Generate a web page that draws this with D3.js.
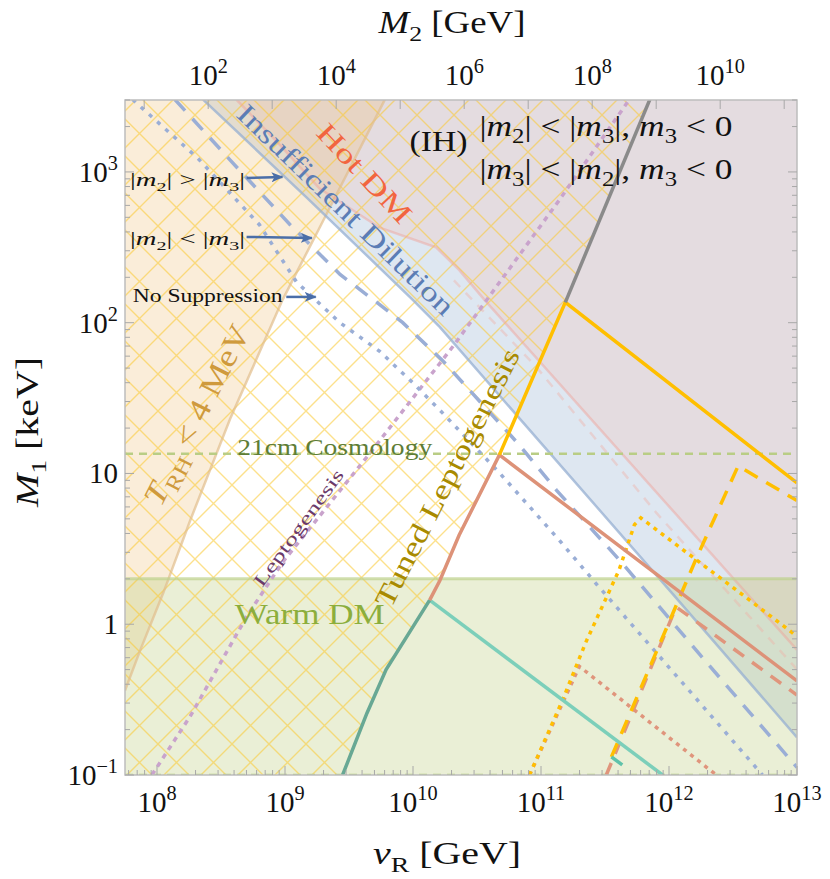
<!DOCTYPE html>
<html>
<head>
<meta charset="utf-8">
<script src="https://cdn.jsdelivr.net/npm/d3@7"></script>
<style>
  body { margin: 0; background: #fff; }
  svg { display: block; }
  text { font-family: "Liberation Serif", "DejaVu Serif", serif; }
</style>
</head>
<body>
<svg id="chart" width="830" height="879"></svg>
<script>
// every curve is a list of [log10(vR / GeV), log10(M1 / keV)]
const vRRange = [7.75, 13];
const m1Range = [-1, Math.log10(3000)];
const m2Shift = 14.8;               // log10 M2 = 2 log10 vR - 14.8
const vRLabels = [8, 9, 10, 11, 12, 13];
const m2Labels = [2, 4, 6, 8, 10];
const m1Labels = [-1, 0, 1, 2, 3];

const warmDM = 2;       // keV
const cosmo21 = 13.5;   // keV

const trhEdge = [[9.78, 3.48], [9.27, 2.63], [8.98, 2.15], [8.57, 1.36], [8.26, 0.69], [8.05, 0.21], [7.87, -0.17], [7.75, -0.44]];
const dilutionSolid = [[8.36, 3.48], [9.17, 2.83], [10.0, 2.15], [10.21, 1.97], [12.02, 0.21], [13.0, -0.75]];
const dilutionDashed = [[8.14, 3.48], [8.57, 3.08], [9.04, 2.65], [9.43, 2.32], [9.74, 2.12], [9.92, 2.0], [10.23, 1.75], [10.83, 1.19], [11.12, 0.89], [11.63, 0.41], [12.24, -0.2], [13.0, -0.95]];
const dilutionDotted = [[7.81, 3.48], [8.32, 3.09], [8.8, 2.65], [9.09, 2.27], [9.43, 2.0], [9.74, 1.81], [10.0, 1.6], [10.21, 1.42], [10.68, 1.0], [11.14, 0.56], [11.44, 0.26], [12.24, -0.52], [12.73, -1.0]];
const hotSolid = [[8.62, 3.48], [8.96, 3.18], [9.27, 2.89], [9.74, 2.63], [10.18, 2.5], [10.36, 2.35], [10.56, 2.15], [12.37, 0.43], [13.0, -0.17]];
const hotDashed = [[10.32, 2.28], [10.96, 1.71], [11.9, 0.74], [13.0, -0.3]];
const leptoLine = [[7.96, -1.0], [8.26, -0.61], [8.7, 0.05], [8.98, 0.41], [9.65, 1.12], [10.31, 1.84], [11.14, 2.81], [11.69, 3.48]];

const grayLine = [[11.19, 2.135], [11.85, 3.48]];
const yellowSolid = [[10.675, 1.123], [11.19, 2.135], [13.0, 0.937]];
const salmonSolid = [[10.13, 0.16], [10.21, 0.29], [10.36, 0.59], [10.675, 1.123], [13.0, -0.376]];
const tealRise = [[9.45, -1.0], [9.64, -0.59], [9.79, -0.3], [10.13, 0.16]];
const tealFall = [[10.13, 0.16], [11.95, -1.0]];
const tealStub = [[11.55, -0.88], [11.635, -0.933]];
const yellowDashed = [[11.55, -0.88], [12.21, 0.43], [12.54, 1.05], [13.0, 0.82]];
const salmonDashed = [[11.51, -1.0], [12.056, 0.115], [13.0, -0.47]];
const yellowDotted = [[10.91, -1.0], [11.17, -0.5], [11.35, -0.12], [11.61, 0.36], [11.73, 0.66], [11.78, 0.705], [12.24, 0.41], [12.63, 0.16], [13.0, -0.08]];
const salmonDotted = [[10.91, -1.0], [11.3, -0.28], [12.37, -1.0]];

const svg = d3.select("#chart");
const pl = 125, pr = 797, pt = 100, pb = 775;

const x = d3.scaleLog().domain(vRRange.map(v => 10 ** v)).range([pl, pr]);
const y = d3.scaleLog().domain(m1Range.map(v => 10 ** v)).range([pb, pt]);
const xTop = d3.scaleLog().domain(vRRange.map(v => 10 ** (2 * v - m2Shift))).range([pl, pr]);
const px = d => x(10 ** d[0]);
const py = d => y(10 ** d[1]);
const line = d3.line().x(px).y(py);

const defs = svg.append("defs");
defs.append("clipPath").attr("id", "plot")
  .append("rect").attr("x", pl).attr("y", pt).attr("width", pr - pl).attr("height", pb - pt);

// tuned leptogenesis boundary: gray, then the rising legs of yellow, salmon, teal
const tunedEdge = [grayLine[1], grayLine[0], yellowSolid[0], ...salmonSolid.slice(0, 3).reverse(), ...tealRise.slice().reverse()];
defs.append("clipPath").attr("id", "hatchClip")
  .append("path").attr("d", line([...tunedEdge, [vRRange[0], m1Range[0]], [vRRange[0], m1Range[1]]]) + "Z");

const pat = defs.append("pattern").attr("id", "hatch")
  .attr("patternUnits", "userSpaceOnUse").attr("width", 37).attr("height", 37)
  .attr("x", 10).attr("y", 4);
pat.append("path").attr("d", "M-5,-5L42,42M42,-5L-5,42M-5,32L5,42M32,-5L42,5M-5,5L5,-5M32,42L42,32")
  .attr("stroke", "rgba(250,200,45,0.55)").attr("stroke-width", 1.4).attr("fill", "none");

const marker = defs.append("marker").attr("id", "arrow")
  .attr("viewBox", "0 0 12 10").attr("refX", 11).attr("refY", 5)
  .attr("markerWidth", 12).attr("markerHeight", 10).attr("markerUnits", "userSpaceOnUse")
  .attr("orient", "auto");
marker.append("path").attr("d", "M0,0L12,5L0,10L3,5Z").attr("fill", "#4a6ea8");

const plot = svg.append("g").attr("clip-path", "url(#plot)");
const corner = [vRRange[1] + 0.1, m1Range[1] + 0.1];

// regions
plot.append("path").attr("d", line([...dilutionSolid, corner]) + "Z")
  .attr("fill", "rgba(160,185,215,0.35)");
plot.append("path").attr("d", line([...hotSolid, corner]) + "Z")
  .attr("fill", "rgba(234,212,210,0.55)");
plot.append("path").attr("d", line([...trhEdge, [vRRange[0] - 0.1, m1Range[1] + 0.1]]) + "Z")
  .attr("fill", "rgba(240,195,130,0.3)");
plot.append("rect").attr("x", pl).attr("width", pr - pl)
  .attr("y", y(warmDM)).attr("height", pb - y(warmDM))
  .attr("fill", "rgba(190,205,130,0.33)");

plot.append("rect").attr("x", pl).attr("y", pt).attr("width", pr - pl).attr("height", pb - pt)
  .attr("fill", "url(#hatch)").attr("clip-path", "url(#hatchClip)");

// region edges
plot.append("path").attr("d", line(trhEdge)).attr("fill", "none")
  .attr("stroke", "rgba(225,190,140,0.7)").attr("stroke-width", 2.5);
plot.append("path").attr("d", line(hotSolid)).attr("fill", "none")
  .attr("stroke", "rgba(240,160,150,0.45)").attr("stroke-width", 2.5);
plot.append("path").attr("d", line(hotDashed)).attr("fill", "none")
  .attr("stroke", "rgba(240,175,165,0.4)").attr("stroke-width", 2.5).attr("stroke-dasharray", "9,8");
plot.append("path").attr("d", line(dilutionSolid)).attr("fill", "none")
  .attr("stroke", "rgba(150,175,210,0.75)").attr("stroke-width", 2.5);
plot.append("line").attr("x1", pl).attr("x2", pr).attr("y1", y(warmDM)).attr("y2", y(warmDM))
  .attr("stroke", "rgba(190,210,140,0.7)").attr("stroke-width", 3);
[cosmo21, 10 ** m1Range[0]].forEach(v => {
  plot.append("line").attr("x1", pl).attr("x2", pr).attr("y1", y(v)).attr("y2", y(v))
    .attr("stroke", "#b9cd85").attr("stroke-width", 2.5).attr("stroke-dasharray", "8,6");
});

// curves
const curves = [
  { d: leptoLine, c: "#c9a3cc", dash: "5,5" },
  { d: dilutionDashed, c: "#9aaed6", dash: "15,11" },
  { d: dilutionDotted, c: "#9aaed6", dash: "4,7" },
  { d: salmonDotted, c: "#e0957c", dash: "4,5" },
  { d: yellowDotted, c: "#ffbf00", dash: "4,5" },
  { d: salmonDashed, c: "#e0957c", dash: "13,10" },
  { d: yellowDashed, c: "#ffbf00", dash: "15,10" },
  { d: tealFall, c: "#7ccfba", dash: null },
  { d: tealStub, c: "#5fc2aa", dash: null },
  { d: tealRise, c: "#68a894", dash: null },
  { d: salmonSolid, c: "#dd9278", dash: null },
  { d: yellowSolid, c: "#ffbf00", dash: null },
  { d: grayLine, c: "#8a8a8a", dash: null }
];
curves.forEach(k => {
  plot.append("path").attr("d", line(k.d)).attr("fill", "none")
    .attr("stroke", k.c).attr("stroke-width", 3.5)
    .attr("stroke-dasharray", k.dash);
});

// rich text helper: parts are [string, style] with style "i", "sub", "sup" or ""
function rich(t, parts, size) {
  let off = 0;
  parts.forEach(([s, st]) => {
    const target = st === "sub" ? size * 0.25 : st === "sup" ? -size * 0.42 : 0;
    const ts = t.append("tspan").text(s).attr("dy", target - off);
    off = target;
    if (st === "i") ts.attr("font-style", "italic");
    if (st === "sub" || st === "sup") ts.attr("font-size", size * 0.7);
  });
  return t;
}

function fit(t, len) {
  if (len) t.attr("textLength", len).attr("lengthAdjust", "spacingAndGlyphs");
}

function label(pos, angle, parts, size, color, len) {
  const g = svg.append("g").attr("transform", `translate(${px(pos)},${py(pos)}) rotate(${angle})`);
  const t = g.append("text").attr("text-anchor", "middle").attr("y", size * 0.33)
    .attr("font-size", size).attr("fill", color);
  rich(t, parts, size);
  fit(t, len);
}

label([9.62, 2.99], 47, [["Hot DM", ""]], 28, "#f2653f", 125);
label([9.474, 2.748], 44, [["Insufficient Dilution", ""]], 28, "#5b7db5", 290);
label([8.312, 1.388], -63, [["T", "i"], ["RH", "sub"], [" < 4 MeV", ""]], 31, "#cf9a3c", 198);
label([10.269, 0.97], -63, [["Tuned Leptogenesis", ""]], 28, "#a88a00", 286);
label([9.107, 0.639], -54, [["Leptogenesis", ""]], 18, "#6b3a6b", 140);
label([9.193, 0.062], 0, [["Warm DM", ""]], 29, "#8cae3c", 150);
label([9.388, 1.17], 0, [["21cm Cosmology", ""]], 23, "#5e7d35", 195);
label([10.199, 3.2], 0, [["(IH)", ""]], 29, "#111", 58);

const ihLines = [
  { pos: [10.519, 3.238], parts: [["|", ""], ["m", "i"], ["2", "sub"], ["| < |", ""], ["m", "i"], ["3", "sub"], ["|, ", ""], ["m", "i"], ["3", "sub"], [" < 0", ""]] },
  { pos: [10.519, 2.953], parts: [["|", ""], ["m", "i"], ["3", "sub"], ["| < |", ""], ["m", "i"], ["2", "sub"], ["|, ", ""], ["m", "i"], ["3", "sub"], [" < 0", ""]] }
];
ihLines.forEach(l => {
  const t = svg.append("text").attr("x", px(l.pos)).attr("y", py(l.pos))
    .attr("font-size", 29).attr("fill", "#111");
  rich(t, l.parts, 29);
  fit(t, 253);
});

// arrows pointing at the three dilution curves
const arrows = [
  { text: [7.79, 2.907], tail: [8.70, 2.96], tip: [8.98, 2.966], len: 115,
    parts: [["|", ""], ["m", "i"], ["2", "sub"], ["| > |", ""], ["m", "i"], ["3", "sub"], ["|", ""]] },
  { text: [7.79, 2.516], tail: [8.70, 2.569], tip: [9.21, 2.562], len: 115,
    parts: [["|", ""], ["m", "i"], ["2", "sub"], ["| < |", ""], ["m", "i"], ["3", "sub"], ["|", ""]] },
  { text: [7.81, 2.137], tail: [9.01, 2.171], tip: [9.24, 2.171], len: 150,
    parts: [["No Suppression", ""]] }
];
arrows.forEach(a => {
  const t = svg.append("text").attr("x", px(a.text)).attr("y", py(a.text))
    .attr("font-size", 19).attr("fill", "#111");
  rich(t, a.parts, 19);
  fit(t, a.len);
  svg.append("line").attr("x1", px(a.tail)).attr("y1", py(a.tail))
    .attr("x2", px(a.tip)).attr("y2", py(a.tip))
    .attr("stroke", "#4a6ea8").attr("stroke-width", 2.5).attr("marker-end", "url(#arrow)");
});

// frame and ticks
svg.append("rect").attr("x", pl).attr("y", pt).attr("width", pr - pl).attr("height", pb - pt)
  .attr("fill", "none").attr("stroke", "#bdbdbd").attr("stroke-width", 1.5);

const isMajor = v => Math.abs(Math.log10(v) - Math.round(Math.log10(v))) < 1e-6;
const tickG = svg.append("g").attr("stroke", "#a8a8a8").attr("stroke-width", 1);
x.ticks().forEach(v => {
  const L = isMajor(v) ? 9 : 5;
  tickG.append("line").attr("x1", x(v)).attr("x2", x(v)).attr("y1", pb).attr("y2", pb - L);
});
xTop.ticks().forEach(v => {
  const L = isMajor(v) ? 9 : 5;
  tickG.append("line").attr("x1", xTop(v)).attr("x2", xTop(v)).attr("y1", pt).attr("y2", pt + L);
});
y.ticks().forEach(v => {
  const L = isMajor(v) ? 9 : 5;
  tickG.append("line").attr("y1", y(v)).attr("y2", y(v)).attr("x1", pl).attr("x2", pl + L);
  tickG.append("line").attr("y1", y(v)).attr("y2", y(v)).attr("x1", pr).attr("x2", pr - L);
});

const tickSize = 29;
vRLabels.forEach(e => {
  const t = svg.append("text").attr("x", x(10 ** e)).attr("y", 812)
    .attr("text-anchor", "middle").attr("font-size", tickSize).attr("fill", "#111");
  rich(t, [["10", ""], [String(e), "sup"]], tickSize);
});
m2Labels.forEach(e => {
  const t = svg.append("text").attr("x", xTop(10 ** e)).attr("y", 85)
    .attr("text-anchor", "middle").attr("font-size", tickSize).attr("fill", "#111");
  rich(t, [["10", ""], [String(e), "sup"]], tickSize);
});
m1Labels.forEach(e => {
  const t = svg.append("text").attr("x", 118).attr("y", y(10 ** e) + 10)
    .attr("text-anchor", "end").attr("font-size", tickSize).attr("fill", "#111");
  if (e === 0) rich(t, [["1", ""]], tickSize);
  else if (e === 1) rich(t, [["10", ""]], tickSize);
  else rich(t, [["10", ""], [e < 0 ? "\u2212" + (-e) : String(e), "sup"]], tickSize);
});

// axis titles
const title = (tx, ty, rot, parts, len) => {
  const t = svg.append("text").attr("transform", `translate(${tx},${ty}) rotate(${rot})`)
    .attr("text-anchor", "middle").attr("font-size", 31).attr("fill", "#111");
  rich(t, parts, 31);
  fit(t, len);
};
title(452, 33, 0, [["M", "i"], ["2", "sub"], [" [GeV]", ""]], 147);
title(447, 864, 0, [["v", "i"], ["R", "sub"], [" [GeV]", ""]], 148);
title(38, 432, -90, [["M", "i"], ["1", "sub"], [" [keV]", ""]], 150);
</script>
</body>
</html>
